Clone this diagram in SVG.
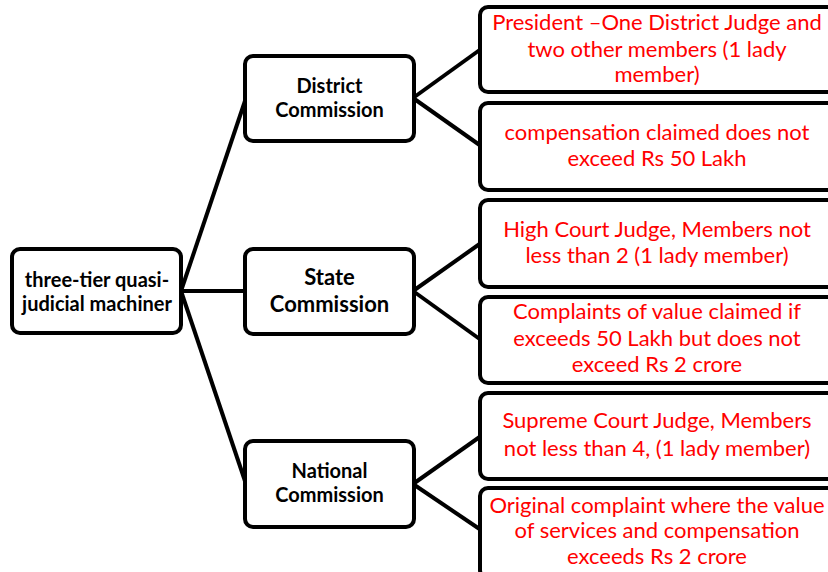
<svg xmlns="http://www.w3.org/2000/svg" width="828" height="572" viewBox="0 0 828 572">
<style>
.box{fill:#fff;stroke:#000;stroke-width:4}
.conn line{stroke:#000;stroke-width:4}
.b{font-family:Lato,"Liberation Sans",sans-serif;font-weight:bold;fill:#000;text-anchor:middle}
.r{font-family:Lato,"Liberation Sans",sans-serif;font-size:22px;fill:#ff0000;text-anchor:middle}
</style>
<rect width="828" height="572" fill="#fff"/>
<g class="conn">
<line x1="181" y1="291" x2="246" y2="98"/>
<line x1="181" y1="291" x2="246" y2="291"/>
<line x1="181" y1="291" x2="246" y2="484"/>
<line x1="413" y1="98" x2="481" y2="49"/>
<line x1="413" y1="98" x2="481" y2="146"/>
<line x1="413" y1="291" x2="481" y2="243"/>
<line x1="413" y1="291" x2="481" y2="340"/>
<line x1="413" y1="484" x2="481" y2="436"/>
<line x1="413" y1="484" x2="481" y2="530"/>
</g>
<g id="root"><rect class="box" x="12" y="249" width="169" height="84" rx="8"/>
<text class="b" font-size="20" x="97" y="287">three-tier quasi-</text>
<text class="b" font-size="20" x="97" y="311">judicial machiner</text></g>
<g id="district"><rect class="box" x="245" y="56" width="169" height="85" rx="8"/>
<text class="b" font-size="20" x="329.5" y="93">District</text>
<text class="b" font-size="20" x="329.5" y="117">Commission</text></g>
<g id="state"><rect class="box" x="245" y="249" width="169" height="85" rx="8"/>
<text class="b" font-size="22" x="329.5" y="285">State</text>
<text class="b" font-size="22" x="329.5" y="312">Commission</text></g>
<g id="national"><rect class="box" x="245" y="441" width="169" height="86" rx="8"/>
<text class="b" font-size="20" x="329.5" y="478">National</text>
<text class="b" font-size="20" x="329.5" y="502">Commission</text></g>
<g id="d1"><rect class="box" x="480" y="7" width="360" height="85" rx="8"/>
<text class="r" x="657" y="30">President –One District Judge and</text>
<text class="r" x="657" y="57">two other members (1 lady</text>
<text class="r" x="657" y="82">member)</text></g>
<g id="d2"><rect class="box" x="480" y="103" width="360" height="87" rx="8"/>
<text class="r" x="657" y="140">compensation claimed does not</text>
<text class="r" x="657" y="166">exceed Rs 50 Lakh</text></g>
<g id="s1"><rect class="box" x="480" y="200" width="360" height="87" rx="8"/>
<text class="r" x="657" y="237">High Court Judge, Members not</text>
<text class="r" x="657" y="263">less than 2 (1 lady member)</text></g>
<g id="s2"><rect class="box" x="480" y="297" width="360" height="86" rx="8"/>
<text class="r" x="657" y="319">Complaints of value claimed if</text>
<text class="r" x="657" y="346">exceeds 50 Lakh but does not</text>
<text class="r" x="657" y="372">exceed Rs 2 crore</text></g>
<g id="n1"><rect class="box" x="480" y="393" width="360" height="86" rx="8"/>
<text class="r" x="657" y="428">Supreme Court Judge, Members</text>
<text class="r" x="657" y="456">not less than 4, (1 lady member)</text></g>
<g id="n2"><rect class="box" x="480" y="488" width="360" height="90" rx="8"/>
<text class="r" x="657" y="513">Original complaint where the value</text>
<text class="r" x="657" y="538">of services and compensation</text>
<text class="r" x="657" y="564">exceeds Rs 2 crore</text></g>
</svg>
